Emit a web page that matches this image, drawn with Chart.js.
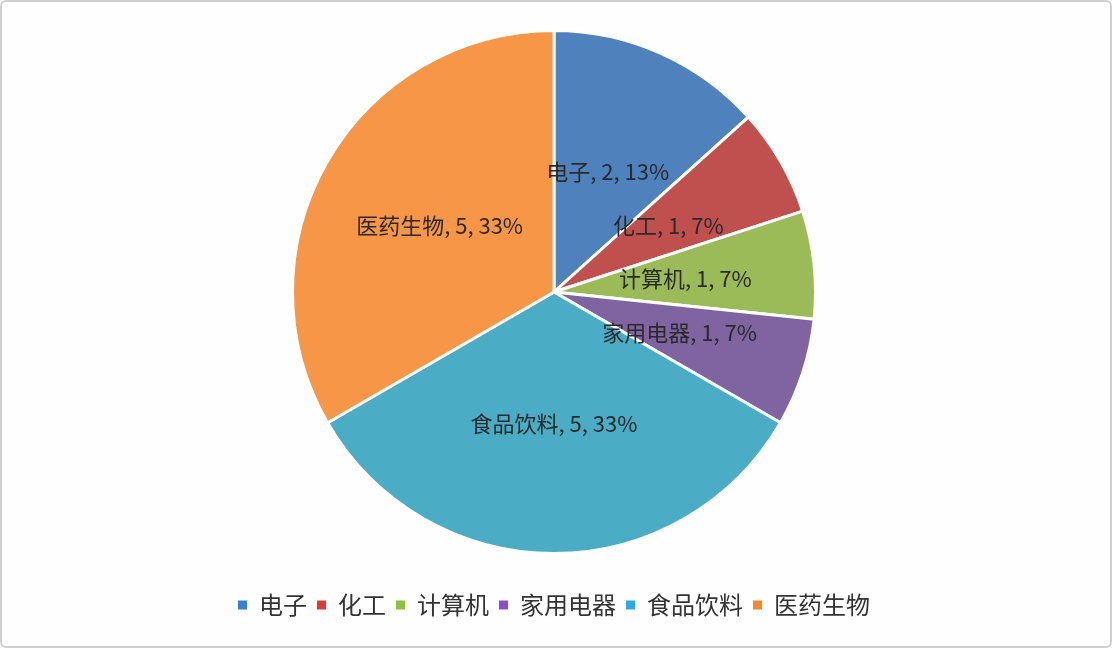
<!DOCTYPE html>
<html><head><meta charset="utf-8">
<script src="https://cdn.jsdelivr.net/npm/chart.js@4.4.0/dist/chart.umd.min.js"></script>
<style>
html,body{margin:0;padding:0;background:#fff;}
#wrap{position:absolute;left:0;top:0;width:1108px;height:644px;border:2px solid #cfcfcf;border-radius:6px;background:#fefefe;}
canvas{display:block;}
</style></head><body>
<div id="wrap"><canvas id="c" width="1108" height="644"></canvas></div>
<script>
const categories = ['电子','化工','计算机','家用电器','食品饮料','医药生物'];
const values = [2,1,1,1,5,5];
const sliceColors = ['#4F81BD','#C0504D','#9BBB59','#8064A2','#4BACC6','#F79646'];
const legendColors = ['#3A7DD6','#E03A36','#8DC13F','#8A4FC6','#2EA8DE','#F7892B'];
const FONT = '"Noto Sans CJK SC","Noto Sans",sans-serif';

const labelPlugin = {
  id:'sliceLabels',
  afterDatasetsDraw(chart){
    const ctx = chart.ctx;
    const meta = chart.getDatasetMeta(0);
    const total = values.reduce((a,b)=>a+b,0);
    ctx.save();
    ctx.font = '22px ' + FONT;
    ctx.fillStyle = '#2a2a2a';
    ctx.textAlign = 'center';
    ctx.textBaseline = 'middle';
    meta.data.forEach((arc,i)=>{
      const p = arc.getProps(['x','y','startAngle','endAngle','outerRadius'],true);
      const mid = (p.startAngle+p.endAngle)/2;
      const r = p.outerRadius*0.505;
      const pct = Math.round(values[i]/total*100);
      ctx.fillText(categories[i]+', '+values[i]+', '+pct+'%', p.x+Math.cos(mid)*r, p.y+Math.sin(mid)*r);
    });
    ctx.restore();
  }
};

new Chart(document.getElementById('c'),{
  type:'pie',
  data:{labels:categories,datasets:[{data:values,backgroundColor:sliceColors,borderColor:'#ffffff',borderWidth:3}]},
  options:{
    responsive:false,
    animation:false,
    layout:{padding:{top:27,bottom:19,left:0,right:4}},
    plugins:{
      tooltip:{enabled:false},
      legend:{
        position:'bottom',
        title:{display:true,text:' ',padding:8,font:{size:10}},
        labels:{
          font:{size:24,family:FONT},
          color:'#333',
          boxWidth:9,boxHeight:9,
          padding:10,
          generateLabels(chart){
            return categories.map((c,i)=>({text:c,fillStyle:legendColors[i],strokeStyle:legendColors[i],lineWidth:0,index:i,hidden:false,fontColor:'#333'}));
          }
        }
      }
    }
  },
  plugins:[labelPlugin]
});
</script>
</body></html>
